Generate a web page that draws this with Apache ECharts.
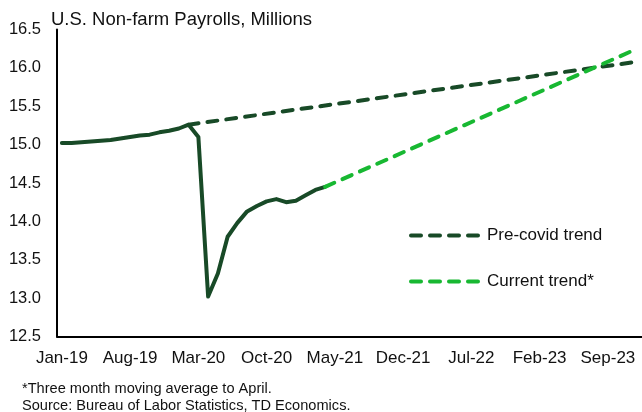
<!DOCTYPE html>
<html>
<head>
<meta charset="utf-8">
<script src="https://cdn.jsdelivr.net/npm/echarts@6/dist/echarts.min.js"></script>
<style>
html,body{margin:0;padding:0;background:#fff;}
#chart{width:642px;height:412px;}
</style>
</head>
<body>
<div id="chart"></div>
<script>
// Month labels (Jan-19 .. Dec-23)
const monthNames = ['Jan','Feb','Mar','Apr','May','Jun','Jul','Aug','Sep','Oct','Nov','Dec'];
const years = ['19','20','21','22','23'];
const categories = [];
years.forEach(y => monthNames.forEach(m => categories.push(m + '-' + y)));

// Actual payrolls, Jan-19 .. Apr-21 (millions)
const actualValues = [
  15.02, 15.02, 15.03, 15.04, 15.05, 15.06, 15.08, 15.10, 15.12, 15.13, 15.16, 15.18,
  15.21, 15.26, 15.10, 13.02, 13.32, 13.80, 13.98, 14.13, 14.20, 14.26, 14.29, 14.25,
  14.27, 14.34, 14.41, 14.45
];

// Trend endpoints [category, value]
const preCovidTrend = [['Feb-20', 15.26], ['Dec-23', 16.08]];
const currentTrend = [['Apr-21', 14.45], ['Dec-23', 16.25]];

const yTicks = { min: 12.5, max: 16.5, interval: 0.5 };
const titleText = 'U.S. Non-farm Payrolls, Millions';
const footnotes = ['*Three month moving average to April.', 'Source: Bureau of Labor Statistics, TD Economics.'];

function toSeries(points) {
  const arr = categories.map(() => null);
  points.forEach(p => { arr[categories.indexOf(p[0])] = p[1]; });
  return arr;
}

const DARK = '#184a27';
const BRIGHT = '#18b832';
const FONT = 'Liberation Sans, Arial, sans-serif';

const chart = echarts.init(document.getElementById('chart'), null, { renderer: 'canvas' });
chart.setOption({
  animation: false,
  backgroundColor: '#ffffff',
  title: [
    { text: titleText, left: 51, top: 10, padding: 0, textStyle: { fontFamily: FONT, fontSize: 18.5, fontWeight: 'normal', color: '#111' } },
    { text: footnotes[0], left: 22, top: 381, padding: 0, textStyle: { fontFamily: FONT, fontSize: 14.6, fontWeight: 'normal', color: '#111' } },
    { text: footnotes[1], left: 22, top: 398, padding: 0, textStyle: { fontFamily: FONT, fontSize: 14.6, fontWeight: 'normal', color: '#111' } }
  ],
  grid: { left: 57, top: 29.5, width: 590, height: 307, containLabel: false },
  legend: {
    data: ['Pre-covid trend', 'Current trend*'],
    orient: 'vertical',
    left: 409,
    top: 227,
    padding: 0,
    itemWidth: 69,
    itemHeight: 16,
    itemGap: 29,
    itemStyle: { opacity: 0 },
    lineStyle: { width: 4, type: [10, 9], cap: 'round' },
    textStyle: { fontFamily: FONT, fontSize: 17, color: '#111', padding: [0, 0, 0, 2] }
  },
  xAxis: {
    type: 'category',
    data: categories,
    boundaryGap: true,
    axisLine: { lineStyle: { color: '#000', width: 2 } },
    axisTick: { show: false },
    axisLabel: { interval: 6, fontFamily: FONT, fontSize: 17, color: '#111', margin: 13 },
    splitLine: { show: false }
  },
  yAxis: {
    type: 'value',
    min: yTicks.min,
    max: yTicks.max,
    interval: yTicks.interval,
    axisLine: { show: true, lineStyle: { color: '#000', width: 2 } },
    axisTick: { show: false },
    axisLabel: { fontFamily: FONT, fontSize: 16.5, color: '#111', margin: 16, formatter: v => v.toFixed(1) },
    splitLine: { show: false }
  },
  series: [
    {
      name: 'Actual',
      type: 'line',
      data: actualValues,
      symbol: 'none',
      lineStyle: { color: DARK, width: 4, cap: 'round', join: 'round' },
      itemStyle: { color: DARK },
      z: 3
    },
    {
      name: 'Pre-covid trend',
      type: 'line',
      data: toSeries(preCovidTrend),
      connectNulls: true,
      symbol: 'none',
      lineStyle: { color: DARK, width: 4, type: [10, 9], cap: 'round' },
      itemStyle: { color: DARK },
      z: 2
    },
    {
      name: 'Current trend*',
      type: 'line',
      data: toSeries(currentTrend),
      connectNulls: true,
      symbol: 'none',
      lineStyle: { color: BRIGHT, width: 4, type: [10, 9], cap: 'round' },
      itemStyle: { color: BRIGHT },
      z: 4
    }
  ]
});
</script>
</body>
</html>
